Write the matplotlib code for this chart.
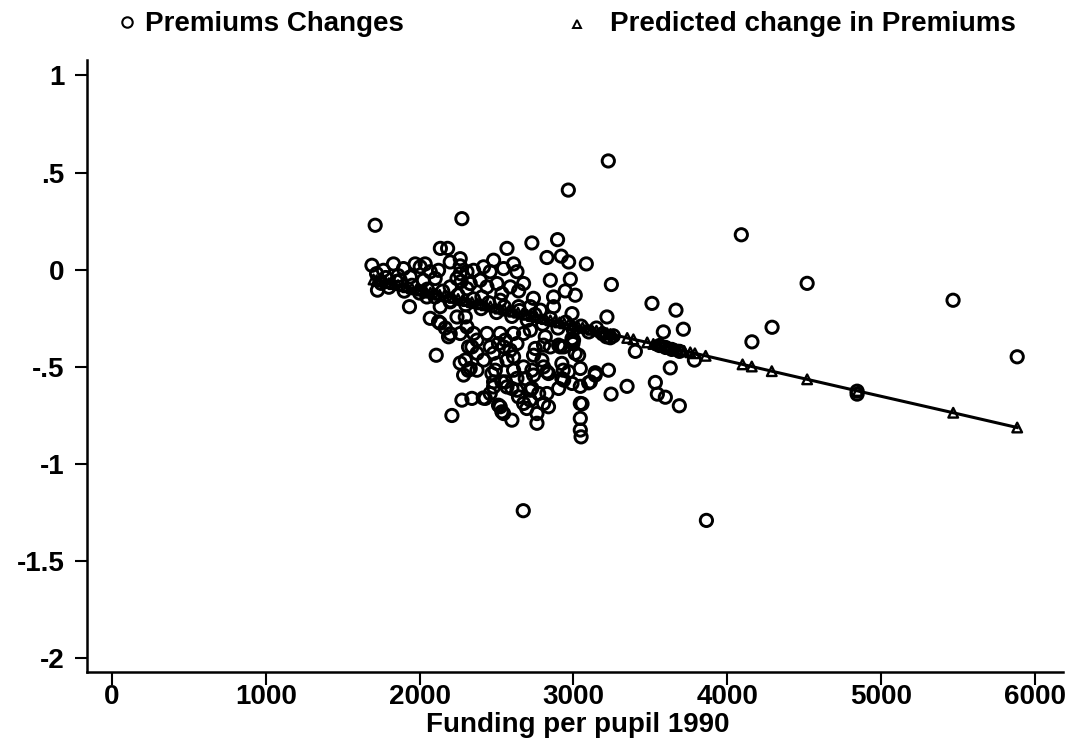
import matplotlib
matplotlib.use("Agg")
import matplotlib.pyplot as plt
from matplotlib.lines import Line2D

plt.rcParams['font.family'] = ['Liberation Sans', 'DejaVu Sans']
plt.rcParams['font.weight'] = 'bold'

# Observed premium changes (x = funding per pupil 1990, y = change)
prem_x = [1711, 2275, 2135, 2182, 2568, 2730, 2897, 2967, 3227, 4092, 4520, 5469, 5886,
          3865, 2674, 4292, 4161, 3667, 3715, 3585, 3403, 3228, 3349, 3245, 3533, 3546,
          3598, 3689, 3630, 3787, 4845, 4845, 3218, 3511, 3247,
          3084, 2969, 2921, 2828, 2850, 2980, 2947, 3012, 2871, 2740, 2644, 2991,
          3110, 3045, 3142, 3045, 3045, 3045,
          2904, 2937, 3012, 2997, 2991, 2806, 2795, 2806, 2838, 2937, 2904, 2934, 2741,
          2730, 2676, 2633, 2730, 2774, 2828, 2806, 2838, 2763, 2676, 2643, 2697, 2719,
          2633, 2763, 2600, 2535, 2513, 2427, 2340, 2275, 2210, 2108, 1934, 1726, 1690,
          1830, 1971, 2036, 2264, 2481, 2611, 2633, 2546,
          2069, 2123, 2134, 2167, 2199, 2243, 2297, 2308, 2264, 2351, 2373, 2438, 2318,
          2373, 2416, 2297, 2329, 2373, 2286, 2470, 2503, 2568, 2589, 2633, 2676, 2720,
          2611, 2557, 2513, 2459, 2611, 2535, 2481, 2568, 2459, 2687,
          2199, 2264, 2264, 2270, 2123, 2069, 2004, 1895, 1765, 1939, 2025, 2101, 2308,
          2351, 2416, 2459, 2394, 2329, 2243, 2199, 2308, 2438, 2503, 2535, 2589, 2676,
          2405, 2524, 2644, 2720, 2785, 2871, 2199, 2047, 1874,
          2134, 2188, 2264, 2316, 2340, 2414,
          3190, 3215, 3240, 3260, 3560, 3600, 3640, 3690,
          1750, 1800, 1850, 1900, 1950, 2000, 2050, 2100, 2150, 2200, 2250, 2300, 2350,
          2400, 2450, 2500, 2550, 2600, 2650, 2700, 2750, 2800, 2850, 2900, 2950, 3000,
          3050, 3100, 3150,
          2817, 2752, 2850, 2915, 3001, 3034, 2741, 2828, 2925, 2969, 3045, 2925, 2991,
          3142, 3099, 3056, 2720, 2600, 2524, 2546, 2481, 2557, 2492, 2611, 2546, 2481,
          2524, 3050, 1720, 1780, 1860]
prem_y = [0.229, 0.263, 0.11, 0.11, 0.11, 0.138, 0.155, 0.41, 0.56, 0.18, -0.07, -0.157, -0.448,
          -1.29, -1.24, -0.296, -0.371, -0.208, -0.306, -0.32, -0.42, -0.517, -0.60, -0.64, -0.58, -0.64,
          -0.656, -0.70, -0.505, -0.465, -0.64, -0.625, -0.243, -0.173, -0.076,
          0.03, 0.04, 0.07, 0.063, -0.054, -0.049, -0.109, -0.131, -0.14, -0.147, -0.109, -0.226,
          -0.577, -0.60, -0.53, -0.688, -0.765, -0.825,
          -0.388, -0.397, -0.43, -0.38, -0.354, -0.388, -0.465, -0.5, -0.534, -0.568, -0.611, -0.517, -0.44,
          -0.517, -0.5, -0.559, -0.61, -0.637, -0.637, -0.688, -0.705, -0.74, -0.688, -0.654, -0.714, -0.671,
          -0.62, -0.79, -0.774, -0.731, -0.697, -0.662, -0.662, -0.671, -0.75, -0.44, -0.19, -0.105, 0.023,
          0.03, 0.03, 0.03, 0.057, 0.049, 0.03, -0.01, 0.006,
          -0.25, -0.268, -0.19, -0.30, -0.33, -0.243, -0.243, -0.294, -0.328, -0.328, -0.362, -0.328, -0.397,
          -0.43, -0.465, -0.465, -0.508, -0.517, -0.542, -0.534, -0.482, -0.465, -0.414, -0.38, -0.328, -0.311,
          -0.328, -0.362, -0.38, -0.397, -0.517, -0.577, -0.603, -0.603, -0.637, -0.56,
          0.04, 0.02, -0.02, -0.06, -0.003, -0.01, 0.015, 0.006, -0.003, -0.037, -0.054, -0.045, -0.01,
          -0.003, 0.015, -0.01, -0.054, -0.071, -0.045, -0.088, -0.097, -0.088, -0.071, -0.122, -0.088, -0.071,
          -0.14, -0.157, -0.19, -0.19, -0.208, -0.19, -0.165, -0.14, -0.054,
          -0.275, -0.345, -0.48, -0.517, -0.397, -0.66,
          -0.33, -0.345, -0.35, -0.34, -0.39, -0.40, -0.41, -0.42,
          -0.07, -0.09, -0.06, -0.11, -0.08, -0.12, -0.10, -0.14, -0.11, -0.16, -0.13, -0.18, -0.15,
          -0.20, -0.17, -0.22, -0.19, -0.24, -0.21, -0.26, -0.23, -0.28, -0.25, -0.30, -0.27, -0.31,
          -0.29, -0.32, -0.30,
          -0.345, -0.405, -0.397, -0.397, -0.362, -0.44, -0.542, -0.525, -0.482, -0.525, -0.508, -0.56, -0.585,
          -0.542, -0.582, -0.69, -0.62, -0.611, -0.705, -0.74, -0.577, -0.577, -0.517, -0.448, -0.397, -0.43,
          -0.328, -0.86, -0.02, -0.04, -0.03]

# Predicted change in premiums
pred_x = [1700, 1720, 1740, 1760, 1780, 1800, 1830, 1860, 1890, 1920, 1950, 1980, 2010, 2040,
          2070, 2100, 2130, 2160, 2190, 2220, 2250, 2280, 2310, 2340, 2370, 2400, 2430, 2460,
          2490, 2520, 2550, 2580, 2610, 2640, 2670, 2700, 2730, 2760, 2790, 2820, 2850, 2880,
          2910, 2940, 2970, 3000, 3030, 3060, 3090, 3120, 3150, 3180, 3200, 3220, 3240, 3260,
          3350, 3390, 3480, 3520, 3550, 3560, 3580, 3600, 3610, 3620, 3640, 3650, 3670, 3680,
          3700, 3720, 3760, 3790, 3860, 4100, 4160, 4290, 4520, 4850, 5470, 5886]
pred_y = [-0.050, -0.054, -0.058, -0.061, -0.065, -0.069, -0.074, -0.079, -0.085, -0.090, -0.096,
          -0.101, -0.107, -0.112, -0.118, -0.123, -0.129, -0.134, -0.140, -0.145, -0.150, -0.156,
          -0.161, -0.167, -0.172, -0.178, -0.183, -0.189, -0.194, -0.200, -0.205, -0.211, -0.216,
          -0.221, -0.227, -0.232, -0.238, -0.243, -0.249, -0.254, -0.260, -0.265, -0.271, -0.276,
          -0.281, -0.287, -0.292, -0.298, -0.303, -0.309, -0.314, -0.320, -0.323, -0.327, -0.331,
          -0.334, -0.351, -0.358, -0.374, -0.382, -0.387, -0.389, -0.393, -0.396, -0.398, -0.400,
          -0.403, -0.405, -0.409, -0.411, -0.414, -0.418, -0.425, -0.430, -0.443, -0.487, -0.498,
          -0.522, -0.564, -0.624, -0.736, -0.812]

x_ticks = [0, 1000, 2000, 3000, 4000, 5000, 6000]
y_ticks = [1, 0.5, 0, -0.5, -1, -1.5, -2]
y_ticklabels = ['1', '.5', '0', '-.5', '-1', '-1.5', '-2']

FS = 20

fig = plt.figure(figsize=(10.65, 7.43), dpi=100)
ax = fig.add_axes([0.0817, 0.0956, 0.916, 0.823])

ax.scatter(prem_x, prem_y, s=78, facecolors='none', edgecolors='black', linewidths=2.1, zorder=2)
ax.plot(pred_x, pred_y, color='black', lw=2.2, zorder=3)
ax.scatter(pred_x, pred_y, s=48, marker='^', facecolors='none', edgecolors='black',
           linewidths=1.7, zorder=3)

ax.set_xlim(-163, 6181)
ax.set_ylim(-2.07, 1.077)
ax.set_xticks(x_ticks)
ax.set_xticklabels([str(t) for t in x_ticks])
ax.set_yticks(y_ticks)
ax.set_yticklabels(y_ticklabels)
for s in ['top', 'right']:
    ax.spines[s].set_visible(False)
for s in ['left', 'bottom']:
    ax.spines[s].set_linewidth(1.8)
ax.tick_params(axis='both', direction='out', length=9, width=1.5, labelsize=FS, colors='black')
ax.tick_params(axis='x', pad=0)
ax.tick_params(axis='y', pad=7)
for lab in ax.get_xticklabels() + ax.get_yticklabels():
    lab.set_fontweight('bold')

fig.text(578 / 1065, 1 - 732 / 743, 'Funding per pupil 1990', fontsize=FS, fontweight='bold',
         va='baseline', ha='center')

# legend at top
fig.add_artist(Line2D([127 / 1065], [1 - 22 / 743], marker='o', markersize=7.5, markerfacecolor='none',
                      markeredgecolor='black', markeredgewidth=1.5, linestyle='none',
                      transform=fig.transFigure))
fig.text(145 / 1065, 1 - 31 / 743, 'Premiums Changes', fontsize=FS, fontweight='bold',
         va='baseline', ha='left')
fig.add_artist(Line2D([577 / 1065], [1 - 24 / 743], marker='^', markersize=6, markerfacecolor='none',
                      markeredgecolor='black', markeredgewidth=1.4, linestyle='none',
                      transform=fig.transFigure))
fig.text(610 / 1065, 1 - 31 / 743, 'Predicted change in Premiums', fontsize=FS, fontweight='bold',
         va='baseline', ha='left')

fig.savefig('out.png', dpi=100)
